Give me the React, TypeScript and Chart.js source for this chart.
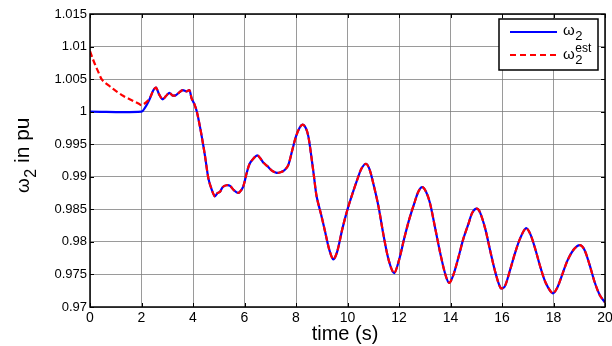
import React, { useEffect, useRef } from 'react';
import { Chart, registerables } from 'chart.js';

Chart.register(...registerables);

// time (s) samples for omega_2 (actual)
const time = [
  0, 2.0, 2.15, 2.3, 2.45, 2.56, 2.68, 2.82, 2.95, 3.08, 3.2, 3.32, 3.45, 3.6, 3.75, 3.86, 3.95, 4.05, 4.15,
  4.27, 4.37, 4.47, 4.6, 4.73, 4.85, 4.95, 5.05, 5.15, 5.3, 5.44, 5.57, 5.7, 5.8, 5.95, 6.08, 6.2, 6.35,
  6.5, 6.62, 6.75, 6.9, 7.05, 7.25, 7.4, 7.55, 7.7, 7.85, 8.0, 8.15, 8.26, 8.38, 8.48, 8.6, 8.7, 8.8,
  9.0, 9.15, 9.3, 9.45, 9.6, 9.8, 10.0, 10.2, 10.4, 10.55, 10.72, 10.85, 11.0, 11.2, 11.4, 11.6, 11.81,
  12.0, 12.2, 12.4, 12.6, 12.75, 12.9, 13.05, 13.2, 13.4, 13.6, 13.8, 13.95, 14.1, 14.3, 14.5, 14.7,
  14.85, 15.02, 15.15, 15.35, 15.55, 15.75, 15.95, 16.1, 16.3, 16.5, 16.7, 16.93, 17.1, 17.3, 17.5,
  17.7, 17.97, 18.15, 18.35, 18.55, 18.8, 19.03, 19.2, 19.4, 19.6, 19.8, 20.0,
];

const omega2 = [
  1.0, 1.0, 1.0007, 1.0018, 1.0032, 1.0037, 1.0027, 1.0019, 1.0024, 1.0029, 1.0025, 1.0025, 1.0029, 1.0033,
  1.0031, 1.0033, 1.002, 1.0012, 1.0, 0.9977, 0.9955, 0.9931, 0.9897, 0.988, 0.987, 0.9875, 0.9877,
  0.9884, 0.9887, 0.9886, 0.988, 0.9876, 0.9876, 0.9885, 0.9905, 0.992, 0.9928, 0.9933, 0.9928, 0.9921,
  0.9916, 0.991, 0.9906, 0.9907, 0.991, 0.9918, 0.994, 0.9962, 0.9976, 0.998, 0.9975, 0.9962, 0.993,
  0.99, 0.987, 0.9838, 0.9812, 0.9787, 0.9773, 0.9785, 0.982, 0.985, 0.9875, 0.9898, 0.9913, 0.992,
  0.9912, 0.989, 0.9855, 0.981, 0.9772, 0.9752, 0.9772, 0.9805, 0.9835, 0.986, 0.9877, 0.9884, 0.9877,
  0.986, 0.9822, 0.9783, 0.975, 0.9737, 0.9748, 0.9775, 0.9805, 0.9828, 0.9845, 0.9851, 0.9845, 0.982,
  0.9785, 0.9752, 0.9729, 0.9731, 0.9755, 0.9782, 0.9805, 0.9821, 0.9812, 0.9788, 0.976, 0.9737,
  0.9721, 0.973, 0.9751, 0.9772, 0.9789, 0.9795, 0.9788, 0.9765, 0.9738, 0.9718, 0.9707,
];

// estimator start-up transient (before it locks onto omega_2)
const estHeadTime = [0, 0.1, 0.2, 0.3, 0.45, 0.6, 0.8, 1.0, 1.3, 1.6, 1.9, 2.0, 2.2, 2.35];
const estHeadValues = [
  1.0093, 1.0082, 1.0072, 1.0063, 1.005, 1.0044, 1.0038, 1.0032, 1.0024, 1.0018, 1.0012, 1.001, 1.0015, 1.0023,
];
const estLockTime = 2.45;

const xTicks = [0, 2, 4, 6, 8, 10, 12, 14, 16, 18, 20];
const yTicks = [0.97, 0.975, 0.98, 0.985, 0.99, 0.995, 1, 1.005, 1.01, 1.015];

const FONT = '"Liberation Sans", Arial, sans-serif';

function drawOmega(ctx: CanvasRenderingContext2D, x: number, y: number, size: number, sup?: string) {
  ctx.font = `${size}px ${FONT}`;
  ctx.fillText('ω', x, y);
  const w = ctx.measureText('ω').width;
  ctx.font = `${Math.round(size * 0.85)}px ${FONT}`;
  ctx.fillText('2', x + w + 0.5, y + size * 0.35);
  let end = x + w + 0.5 + ctx.measureText('2').width;
  if (sup) {
    ctx.font = `${Math.round(size * 0.8)}px ${FONT}`;
    ctx.fillText(sup, x + w + 0.5, y - size * 0.5);
    end = Math.max(end, x + w + 0.5 + ctx.measureText(sup).width);
  }
  return end;
}

const decor = {
  id: 'matlabDecor',
  afterDraw(chart: any) {
    const { ctx, chartArea: a, scales } = chart;
    ctx.save();
    // box
    ctx.strokeStyle = '#000';
    ctx.lineWidth = 1.5;
    ctx.strokeRect(a.left, a.top, a.right - a.left, a.bottom - a.top);
    // inward ticks
    ctx.lineWidth = 1;
    xTicks.forEach((t) => {
      const px = Math.round(scales.x.getPixelForValue(t)) + 0.5;
      ctx.beginPath();
      ctx.moveTo(px, a.bottom);
      ctx.lineTo(px, a.bottom - 4);
      ctx.moveTo(px, a.top);
      ctx.lineTo(px, a.top + 4);
      ctx.stroke();
    });
    yTicks.forEach((t) => {
      const py = Math.round(scales.y.getPixelForValue(t)) + 0.5;
      ctx.beginPath();
      ctx.moveTo(a.left, py);
      ctx.lineTo(a.left + 4, py);
      ctx.moveTo(a.right, py);
      ctx.lineTo(a.right - 4, py);
      ctx.stroke();
    });

    // legend
    const lx = 499, ly = 19, lw = 99, lh = 51;
    ctx.fillStyle = '#fff';
    ctx.fillRect(lx, ly, lw, lh);
    ctx.strokeStyle = '#000';
    ctx.lineWidth = 1.5;
    ctx.strokeRect(lx, ly, lw, lh);
    ctx.lineWidth = 2;
    ctx.strokeStyle = '#0000ff';
    ctx.beginPath();
    ctx.moveTo(510, 32);
    ctx.lineTo(557, 32);
    ctx.stroke();
    ctx.strokeStyle = '#ff0000';
    ctx.setLineDash([6, 4]);
    ctx.beginPath();
    ctx.moveTo(510, 55);
    ctx.lineTo(557, 55);
    ctx.stroke();
    ctx.setLineDash([]);
    ctx.fillStyle = '#000';
    ctx.textBaseline = 'alphabetic';
    ctx.textAlign = 'left';
    drawOmega(ctx, 563, 35, 15);
    drawOmega(ctx, 563, 59, 15, 'est');

    // y title
    ctx.save();
    ctx.translate(29, 154);
    ctx.rotate(-Math.PI / 2);
    ctx.font = `19px ${FONT}`;
    const wOm = ctx.measureText('ω').width;
    ctx.font = `21px ${FONT}`;
    const wRest = ctx.measureText(' in pu').width;
    const totalW = wOm + 12 + wRest;
    const x0 = -totalW / 2;
    const end = drawOmega(ctx, x0, 0, 19);
    ctx.font = `21px ${FONT}`;
    ctx.fillText(' in pu', end, 0);
    ctx.restore();

    // x title
    ctx.font = `20px ${FONT}`;
    ctx.textAlign = 'center';
    ctx.fillText('time (s)', 345, 340);
    ctx.restore();
  },
};

export default function App() {
  const ref = useRef<HTMLCanvasElement>(null);
  useEffect(() => {
    document.body.style.margin = '0';
    const blue = time.map((t, i) => ({ x: t, y: omega2[i] }));
    const red = estHeadTime
      .map((t, i) => ({ x: t, y: estHeadValues[i] }))
      .concat(blue.filter((p) => p.x >= estLockTime));
    const chart = new Chart(ref.current!, {
      type: 'line',
      data: {
        datasets: [
          {
            label: 'ω2',
            data: blue,
            borderColor: '#0000ff',
            borderWidth: 2.2,
            pointRadius: 0,
            tension: 0.3,
            order: 2,
          },
          {
            label: 'ω2 est',
            data: red,
            borderColor: '#ff0000',
            borderWidth: 2.2,
            borderDash: [6, 3],
            pointRadius: 0,
            tension: 0.3,
            order: 1,
          },
        ],
      },
      options: {
        animation: false,
        responsive: false,
        devicePixelRatio: 1,
        layout: { padding: { top: 14, right: 7, left: 0, bottom: 0 } },
        plugins: { legend: { display: false }, tooltip: { enabled: false } },
        scales: {
          x: {
            type: 'linear',
            min: 0,
            max: 20,
            afterFit: (s: any) => {
              s.height = 39;
              s.paddingLeft = 0;
              s.paddingRight = 0;
            },
            afterBuildTicks: (s: any) => {
              s.ticks = xTicks.map((v) => ({ value: v }));
            },
            ticks: {
              color: '#000',
              font: { family: FONT, size: 14 },
              padding: 3,
              maxRotation: 0,
              callback: (v: any) => String(v),
            },
            grid: { color: 'rgba(120,120,120,0.75)', lineWidth: 1, drawTicks: false },
            border: { display: false },
          },
          y: {
            type: 'linear',
            min: 0.97,
            max: 1.015,
            afterFit: (s: any) => {
              s.width = 90;
              s.paddingTop = 0;
              s.paddingBottom = 0;
            },
            afterBuildTicks: (s: any) => {
              s.ticks = yTicks.map((v) => ({ value: v }));
            },
            ticks: {
              color: '#000',
              font: { family: FONT, size: 13 },
              padding: 3,
              callback: (v: any) => String(Number(Number(v).toFixed(3))),
            },
            grid: { color: 'rgba(120,120,120,0.75)', lineWidth: 1, drawTicks: false },
            border: { display: false },
          },
        },
      },
      plugins: [decor],
    });
    return () => chart.destroy();
  }, []);
  return (
    <div style={{ position: 'fixed', left: 0, top: 0, width: 612, height: 346, background: '#fff' }}>
      <canvas ref={ref} width={612} height={346} style={{ width: 612, height: 346 }} />
    </div>
  );
}
